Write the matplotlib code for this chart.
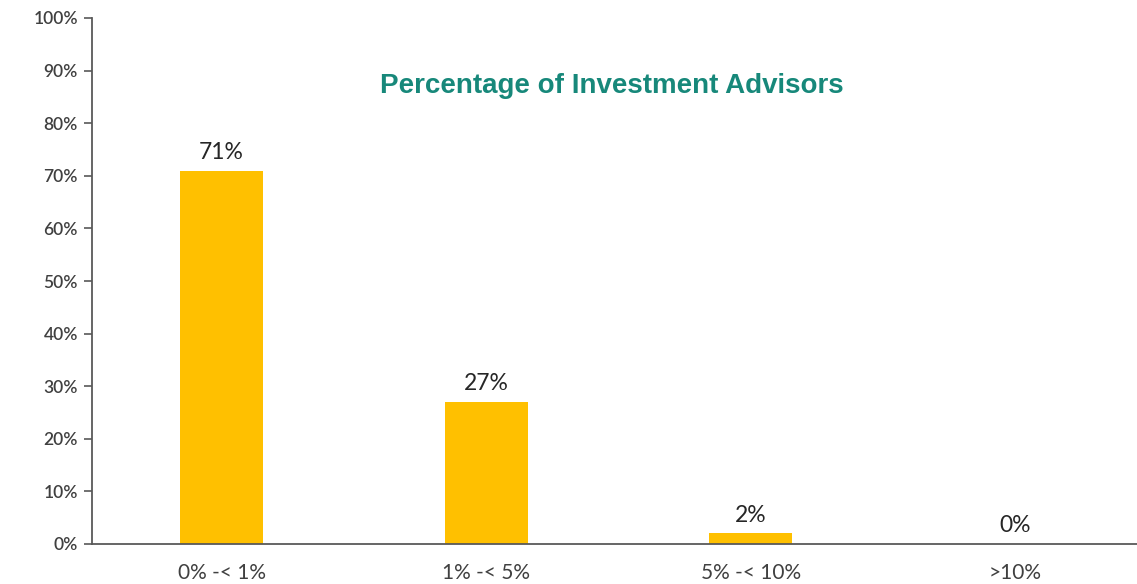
import matplotlib.pyplot as plt
import numpy as np

categories = ['0% -< 1%', '1% -< 5%', '5% -< 10%', '>10%']
values = [71, 27, 2, 0]
yticks = np.arange(0, 101, 10)

fig = plt.figure(figsize=(11.37, 5.84), dpi=100)
ax = fig.add_axes([92 / 1137, 40 / 584, 1045 / 1137, 526 / 584])

x = np.arange(len(categories))
bars = ax.bar(x, values, width=0.315, color='#FFC000')

for xi, v in zip(x, values):
    ax.annotate(f'{v}%', (xi, v), xytext=(0, 5.5), textcoords='offset points',
                ha='center', va='bottom', fontsize=16.5, family='Lato', color='#262626')

ax.set_xlim(-0.49, 3.46)
ax.set_ylim(0, 100)
ax.set_yticks(yticks)
ax.set_yticklabels([f'{t}%' for t in yticks], family='Lato', fontsize=12.5,
                   fontweight='semibold', color='#404040')
ax.set_xticks(x)
ax.set_xticklabels(categories, family='Lato', fontsize=15, color='#404040')
ax.tick_params(axis='x', length=0, pad=14)
ax.tick_params(axis='y', length=6, width=1.2, color='#595959', pad=4)

for s in ['top', 'right']:
    ax.spines[s].set_visible(False)
for s in ['left', 'bottom']:
    ax.spines[s].set_color('#595959')
    ax.spines[s].set_linewidth(1.3)

ax.text(0.497, 0.871, 'Percentage of Investment Advisors', transform=ax.transAxes,
        ha='center', va='center', fontsize=20, fontweight='bold',
        family='Liberation Sans', color='#17887A')

fig.savefig('out.png', dpi=100)
